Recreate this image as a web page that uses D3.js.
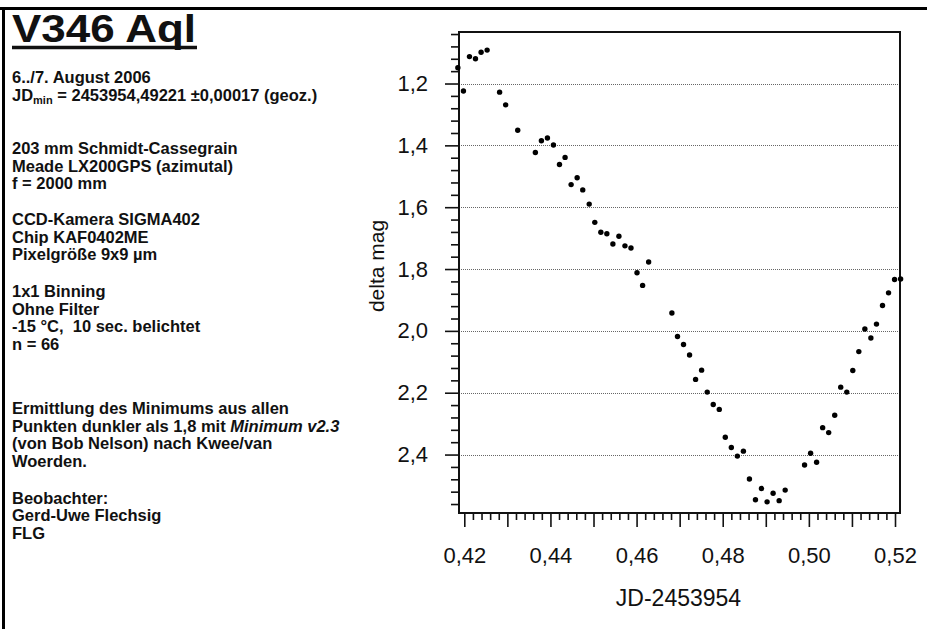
<!DOCTYPE html>
<html><head><meta charset="utf-8">
<script src="https://cdn.jsdelivr.net/npm/d3@7"></script>
<style>
body{margin:0;background:#fff}
svg{display:block}
text{font-family:"Liberation Sans",Arial,sans-serif;fill:#111;white-space:pre}
</style>
</head><body>
<svg id="c" width="927" height="629"></svg>
<script>
// ---- data (JD-2453954, delta mag) ----
const jd = [0.4185,0.4198,0.4212,0.4226,0.4239,0.4253,0.4282,0.4296,0.4324,0.4365,
  0.4379,0.4393,0.4407,0.4421,0.4434,0.4448,0.4462,0.4475,0.4490,0.4503,
  0.4517,0.4531,0.4545,0.4559,0.4573,0.4587,0.4601,0.4614,0.4628,0.4682,
  0.4695,0.4709,0.4723,0.4737,0.4751,0.4764,0.4778,0.4792,0.4806,0.4820,
  0.4834,0.4848,0.4862,0.4876,0.4890,0.4903,0.4917,0.4931,0.4945,0.4990,
  0.5004,0.5018,0.5032,0.5046,0.5060,0.5074,0.5088,0.5102,0.5116,0.5130,
  0.5144,0.5157,0.5171,0.5185,0.5199,0.5213];
const dmag = [1.149,1.224,1.113,1.120,1.099,1.092,1.228,1.269,1.351,1.423,
  1.385,1.376,1.399,1.462,1.439,1.527,1.505,1.544,1.590,1.649,
  1.681,1.686,1.719,1.694,1.725,1.732,1.812,1.853,1.777,1.942,
  2.018,2.044,2.078,2.157,2.127,2.198,2.238,2.254,2.344,2.377,
  2.405,2.389,2.479,2.546,2.510,2.553,2.525,2.549,2.515,2.434,
  2.396,2.425,2.313,2.329,2.273,2.182,2.198,2.128,2.067,1.994,
  2.023,1.978,1.918,1.877,1.834,1.832];
const xTickLabels = [0.42,0.44,0.46,0.48,0.50,0.52];
const xMajorTicks = [0.42,0.43,0.44,0.45,0.46,0.47,0.48,0.49,0.50,0.51,0.52];
const yTickLabels = [1.2,1.4,1.6,1.8,2.0,2.2,2.4];
const xDomain = [0.41877, 0.52116];
const yDomain = [1.0334, 2.589];
const title = "V346 Aql";
const xTitle = "JD-2453954";
const yTitle = "delta mag";
const infoBlocks = [
  ["6../7. August 2006", "JD_min = 2453954,49221 ±0,00017 (geoz.)"],
  ["203 mm Schmidt-Cassegrain", "Meade LX200GPS (azimutal)", "f = 2000 mm"],
  ["CCD-Kamera SIGMA402", "Chip KAF0402ME", "Pixelgröße 9x9 µm"],
  ["1x1 Binning", "Ohne Filter", "-15 °C,  10 sec. belichtet", "n = 66"],
  ["Ermittlung des Minimums aus allen", "Punkten dunkler als 1,8 mit *Minimum v2.3", "(von Bob Nelson) nach Kwee/van", "Woerden."],
  ["Beobachter:", "Gerd-Uwe Flechsig", "FLG"]
];
const blockBaselines = [83, 154, 225, 297, 414, 503.5];

// ---- layout ----
const svg = d3.select("#c");
const W = 927, H = 629;
const plot = {l: 459, t: 32, r: 900, b: 513};
const x = d3.scaleLinear().domain(xDomain).range([plot.l, plot.r]);
const y = d3.scaleLinear().domain(yDomain).range([plot.t, plot.b]);
const comma = s => s.replace(".", ",");

// outer border (top + left)
svg.append("line").attr("x1",0).attr("x2",W).attr("y1",8.5).attr("y2",8.5)
  .attr("stroke","#000").attr("stroke-width",3);
svg.append("line").attr("x1",3.5).attr("x2",3.5).attr("y1",7).attr("y2",H)
  .attr("stroke","#000").attr("stroke-width",3);

// title
svg.append("text").attr("x",12).attr("y",42)
  .attr("font-size",39).attr("font-weight","bold")
  .attr("textLength",184).attr("lengthAdjust","spacingAndGlyphs").text(title);
svg.append("line").attr("x1",12).attr("x2",197).attr("y1",47.5).attr("y2",47.5)
  .attr("stroke","#111").attr("stroke-width",3.5);

// info text
const lh = 17.6;
infoBlocks.forEach((blk, bi) => {
  blk.forEach((line, li) => {
    const t = svg.append("text").attr("x",12).attr("y",blockBaselines[bi] + li*lh)
      .attr("font-size",16.5).attr("font-weight","bold");
    if (line.startsWith("JD_min")) {
      t.append("tspan").text("JD");
      t.append("tspan").attr("font-size",11).attr("dy",3.5).text("min");
      t.append("tspan").attr("dy",-3.5).text(line.slice(6));
    } else if (line.includes("*")) {
      const [a, b] = line.split("*");
      t.append("tspan").text(a);
      t.append("tspan").attr("font-style","italic").text(b);
    } else {
      t.text(line);
    }
  });
});

// gridlines
svg.append("g").selectAll("line").data(yTickLabels).join("line")
  .attr("x1",plot.l).attr("x2",plot.r)
  .attr("y1",d=>Math.round(y(d))+0.5).attr("y2",d=>Math.round(y(d))+0.5)
  .attr("stroke","#666").attr("stroke-width",1).attr("stroke-dasharray","1,1");

// y axis: minor ticks
const yMinor = d3.range(1.04, 2.57, 0.04).map(v=>+v.toFixed(2)).filter(v => !yTickLabels.some(t=>Math.abs(t-v)<1e-6));
svg.append("g").attr("transform",`translate(${plot.l},0)`)
  .call(d3.axisLeft(y).tickValues(yMinor).tickSize(8).tickFormat(""))
  .call(g=>g.select(".domain").remove())
  .call(g=>g.selectAll("line").attr("stroke","#111").attr("stroke-width",1.6));
const yAx = svg.append("g").attr("transform",`translate(${plot.l},0)`)
  .call(d3.axisLeft(y).tickValues(yTickLabels).tickSize(14).tickPadding(17)
    .tickFormat(d=>comma(d3.format(".1f")(d))))
  .call(g=>g.select(".domain").remove());
yAx.selectAll("line").attr("stroke","#111").attr("stroke-width",1.6);
yAx.selectAll("text").attr("font-size",22).attr("font-family","'Liberation Sans',Arial,sans-serif").attr("fill","#111");

// x axis
const xMinor = d3.range(0.42, 0.5201, 0.002).map(v=>+v.toFixed(3)).filter(v => !xMajorTicks.some(t=>Math.abs(t-v)<1e-6));
svg.append("g").attr("transform",`translate(0,${plot.b})`)
  .call(d3.axisBottom(x).tickValues(xMinor).tickSize(7).tickFormat(""))
  .call(g=>g.select(".domain").remove())
  .call(g=>g.selectAll("line").attr("stroke","#111").attr("stroke-width",1.6));
const xMaj = svg.append("g").attr("transform",`translate(0,${plot.b})`)
  .call(d3.axisBottom(x).tickValues(xMajorTicks).tickSize(14).tickFormat(""))
  .call(g=>g.select(".domain").remove());
xMaj.selectAll("line").attr("stroke","#111").attr("stroke-width",1.6);
const xAx = svg.append("g").attr("transform",`translate(0,${plot.b})`)
  .call(d3.axisBottom(x).tickValues(xTickLabels).tickSize(0).tickPadding(34)
    .tickFormat(d=>comma(d3.format(".2f")(d))))
  .call(g=>g.select(".domain").remove());
xAx.selectAll("text").attr("font-size",22).attr("font-family","'Liberation Sans',Arial,sans-serif").attr("fill","#111");

// frame
svg.append("rect").attr("x",plot.l).attr("y",plot.t)
  .attr("width",plot.r-plot.l).attr("height",plot.b-plot.t)
  .attr("fill","none").attr("stroke","#111").attr("stroke-width",2);

// axis titles
svg.append("text").attr("x",(plot.l+plot.r)/2 - 1).attr("y",606)
  .attr("text-anchor","middle").attr("font-size",23).text(xTitle);
svg.append("text").attr("transform",`translate(384,266) rotate(-90)`)
  .attr("text-anchor","middle").attr("font-size",21).text(yTitle);

// points
svg.append("g").selectAll("circle").data(jd.map((d,i)=>[d,dmag[i]])).join("circle")
  .attr("cx",d=>x(d[0])).attr("cy",d=>y(d[1])).attr("r",2.7).attr("fill","#000");
</script>
</body></html>
